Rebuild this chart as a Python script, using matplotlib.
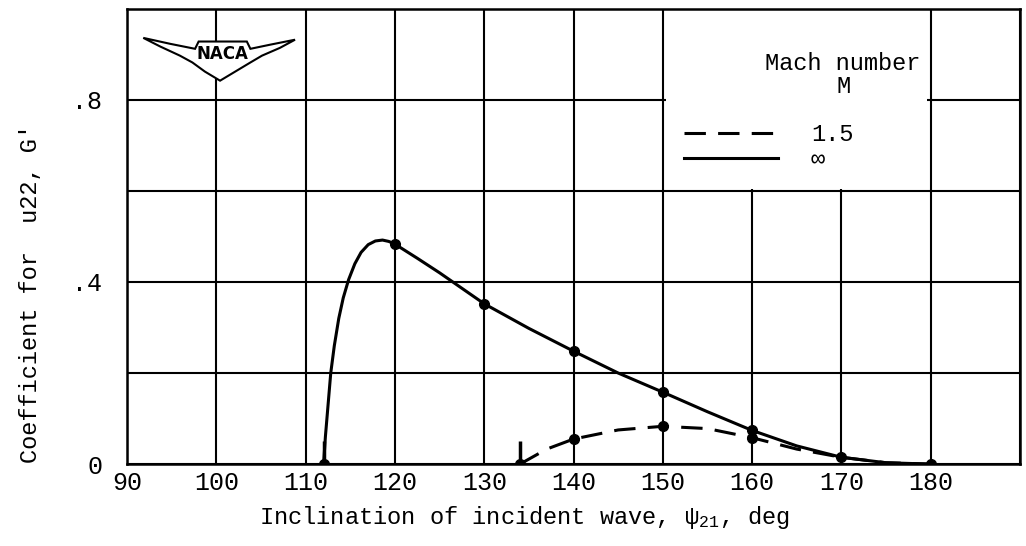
import matplotlib
matplotlib.use("Agg")
import matplotlib.pyplot as plt
from matplotlib.lines import Line2D
from matplotlib.patches import Polygon, Rectangle

plt.rcParams['font.family'] = ['Liberation Mono', 'DejaVu Sans Mono']
plt.rcParams['mathtext.fontset'] = 'custom'
plt.rcParams['mathtext.rm'] = 'Liberation Mono'
plt.rcParams['mathtext.it'] = 'Liberation Mono'
plt.rcParams['mathtext.default'] = 'rm'

# M = infinity (solid curve)
inf_x = [112, 112.2, 112.5, 112.8, 113.2, 113.7, 114.2, 114.8, 115.5, 116.2, 117,
         117.8, 118.6, 119.3, 120, 122.5, 125, 127.5, 130, 135,
         140, 145, 150, 155, 160, 165, 170, 175, 180]
inf_y = [0, 0.06, 0.13, 0.2, 0.26, 0.32, 0.365, 0.405, 0.44, 0.465, 0.482,
         0.49, 0.492, 0.489, 0.483, 0.452, 0.42, 0.386, 0.352, 0.298,
         0.248, 0.2, 0.158, 0.115, 0.074, 0.04, 0.015, 0.003, 0]
inf_pts_x = [112, 120, 130, 140, 150, 160, 170, 180]
inf_pts_y = [0, 0.483, 0.352, 0.248, 0.158, 0.074, 0.015, 0]

# M = 1.5 (dashed curve)
m15_x = [134, 137, 140, 145, 150, 155, 160, 165, 170, 175, 180]
m15_y = [0, 0.033, 0.055, 0.075, 0.083, 0.078, 0.058, 0.033, 0.015, 0.003, 0]
m15_pts_x = [134, 140, 150, 160]
m15_pts_y = [0, 0.055, 0.083, 0.058]

# short vertical pointers at the curve starts
start_x = [112, 134]
start_h = 0.05

xticks = [90, 100, 110, 120, 130, 140, 150, 160, 170, 180]
yticks = [0, 0.4, 0.8]
ylabels = ['0', '.4', '.8']
ygrid_minor = [0.2, 0.6]

fig = plt.figure(figsize=(10.26, 5.46), dpi=100)
ax = fig.add_axes([0.124, 0.150, 0.870, 0.834])

ax.set_xlim(90, 190)
ax.set_ylim(0, 1.0)
ax.set_xticks(xticks + [190])
ax.set_xticklabels([str(t) for t in xticks] + [''])
ax.set_yticks(yticks)
ax.set_yticklabels(ylabels)
ax.set_yticks(ygrid_minor, minor=True)
ax.tick_params(axis='both', which='both', length=0, labelsize=18)
ax.tick_params(axis='y', pad=18)
ax.tick_params(axis='x', pad=5)
ax.set_axisbelow(True)
ax.grid(True, which='both', color='black', lw=1.5)
for s in ax.spines.values():
    s.set_linewidth(1.8)

# white box behind the legend
ax.add_patch(Rectangle((150.4, 0.605), 29.2, 0.4, facecolor='white',
                       edgecolor='none', zorder=1))

ax.plot(inf_x, inf_y, color='black', lw=2.2, zorder=3)
ax.plot(inf_pts_x, inf_pts_y, 'o', color='black', ms=7, zorder=4)
ax.plot(m15_x, m15_y, color='black', lw=2.2, ls=(0, (7, 4)), zorder=3)
ax.plot(m15_pts_x, m15_pts_y, 'o', color='black', ms=7, zorder=4)
ax.vlines(start_x, 0, start_h, color='black', lw=2.5, zorder=3)

ax.set_xlabel(r"Inclination of incident wave, ψ$_{21}$, deg", fontsize=17)
ax.xaxis.set_label_coords(0.445, -0.088)
ax.set_ylabel("Coefficient for  u22, G'", fontsize=17)
ax.yaxis.set_label_coords(-0.096, 0.374)

# legend
ax.text(170.2, 0.855, "Mach number\nM", ha='center', va='center', fontsize=17,
        linespacing=1.0, zorder=5)
handles = [Line2D([], [], color='black', lw=2.2, ls=(0, (7, 4))),
           Line2D([], [], color='black', lw=2.2)]
ax.legend(handles, ['1.5', '∞'], loc='center left',
          bbox_to_anchor=(151.0, 0.696), bbox_transform=ax.transData,
          frameon=False, handlelength=4.0, handletextpad=1.4,
          labelspacing=0.1, borderpad=0, fontsize=17)

# NACA wing logo
wing = [(0.018, 0.936), (0.048, 0.923), (0.076, 0.912), (0.080, 0.928),
        (0.134, 0.928), (0.138, 0.912), (0.160, 0.921), (0.188, 0.932),
        (0.171, 0.914), (0.151, 0.897), (0.138, 0.882), (0.121, 0.862),
        (0.104, 0.842), (0.087, 0.862), (0.073, 0.882), (0.059, 0.897),
        (0.037, 0.917)]
ax.add_patch(Polygon(wing, closed=True, facecolor='white', edgecolor='black',
                     lw=1.5, transform=ax.transAxes, zorder=5))
ax.text(0.107, 0.900, "NACA", transform=ax.transAxes, ha='center', va='center',
        fontsize=12, fontweight='bold', family='DejaVu Sans', zorder=6)

fig.savefig("out.png", dpi=100)
